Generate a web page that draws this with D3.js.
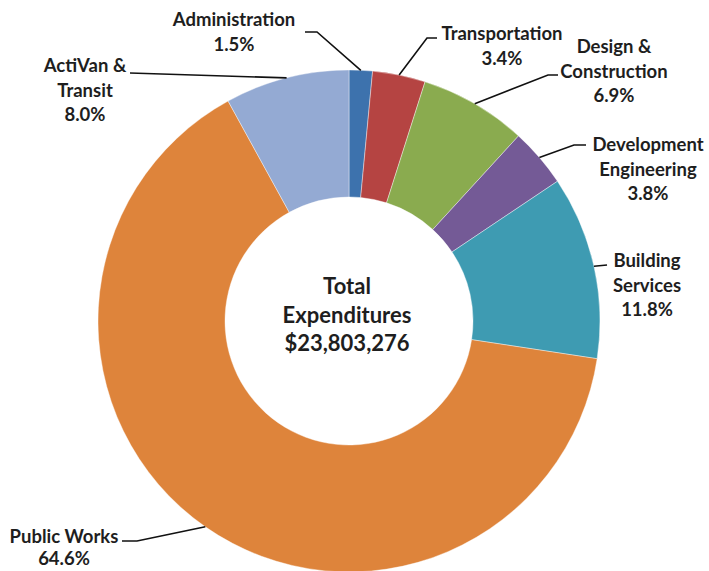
<!DOCTYPE html>
<html>
<head>
<meta charset="utf-8">
<script src="https://cdn.jsdelivr.net/npm/d3@7"></script>
<style>
  body { margin: 0; background: #fff; }
  text { font-family: Lato, "Open Sans", sans-serif; font-weight: 700; fill: #1e1e1e; }
</style>
</head>
<body>
<div id="chart"></div>
<script>
// Expenditure share by department (percent), clockwise from 12 o'clock
const departments = ["Administration", "Transportation", "Design & Construction",
  "Development Engineering", "Building Services", "Public Works", "ActiVan & Transit"];
const shares = [1.5, 3.4, 6.9, 3.8, 11.8, 64.6, 8.0];
const colours = ["#3D72AD", "#B54442", "#8AAB4F", "#745A96", "#3E9BB2", "#DE843B", "#94AAD3"];
const labelLines = [["Administration"], ["Transportation"], ["Design &", "Construction"],
  ["Development", "Engineering"], ["Building", "Services"], ["Public Works"], ["ActiVan &", "Transit"]];
const centreLines = ["Total", "Expenditures", "$23,803,276"];

// hand-placed label boxes (like the original chart): text centre, first baseline, leader elbow & end
const labelLayout = [
  { x: 234, y: 26,  elbow: [317, 32],  end: [305, 32] },
  { x: 502, y: 40,  elbow: [427, 38],  end: [437, 38] },
  { x: 614, y: 53,  elbow: [548, 75],  end: [558, 75] },
  { x: 648, y: 151, elbow: [574, 145], end: [586, 145] },
  { x: 647, y: 267, elbow: [607, 265], end: [607, 265] },
  { x: 64,  y: 543, elbow: [137, 541], end: [122, 541] },
  { x: 85,  y: 72,  elbow: [130, 73],  end: [130, 73] }
];

const W = 709, H = 571;
const cx = 349, cy = 321, R = 251, r = 124;
const lineH = 24.5;

const svg = d3.select("#chart").append("svg")
  .attr("width", W).attr("height", H);

const data = departments.map((d, i) => ({ name: d, value: shares[i], i }));

const pie = d3.pie().sort(null).value(d => d.value);
const arc = d3.arc().innerRadius(r).outerRadius(R);
const arcs = pie(data);

const g = svg.append("g").attr("transform", `translate(${cx},${cy})`);

g.selectAll("path.slice")
  .data(arcs)
  .enter().append("path")
  .attr("class", "slice")
  .attr("d", arc)
  .attr("fill", d => colours[d.data.i])
  .attr("stroke", "#fff")
  .attr("stroke-width", 0.4);

// leader lines: from outer edge at slice mid-angle to the label
svg.selectAll("polyline.leader")
  .data(arcs)
  .enter().append("polyline")
  .attr("class", "leader")
  .attr("fill", "none")
  .attr("stroke", "#111")
  .attr("stroke-width", 1.6)
  .attr("points", d => {
    const a = (d.startAngle + d.endAngle) / 2;
    const p = [cx + R * Math.sin(a), cy - R * Math.cos(a)];
    const L = labelLayout[d.data.i];
    return [p, L.elbow, L.end].map(q => q.join(",")).join(" ");
  });

// labels
const lab = svg.selectAll("text.lab")
  .data(arcs)
  .enter().append("text")
  .attr("class", "lab")
  .attr("text-anchor", "middle")
  .style("font-size", "18.5px");

lab.each(function(d) {
  const L = labelLayout[d.data.i];
  const lines = labelLines[d.data.i].concat([d3.format(".1f")(d.data.value) + "%"]);
  const step = d.data.i === 5 ? 22 : lineH;
  d3.select(this).selectAll("tspan")
    .data(lines)
    .enter().append("tspan")
    .attr("x", L.x)
    .attr("y", (t, k) => L.y + k * step)
    .text(t => t);
});

// centre text
svg.append("text")
  .attr("text-anchor", "middle")
  .style("font-size", "22px")
  .selectAll("tspan")
  .data(centreLines)
  .enter().append("tspan")
  .attr("x", 347)
  .attr("y", (t, k) => 294 + k * 28.5)
  .text(t => t);
</script>
</body>
</html>
